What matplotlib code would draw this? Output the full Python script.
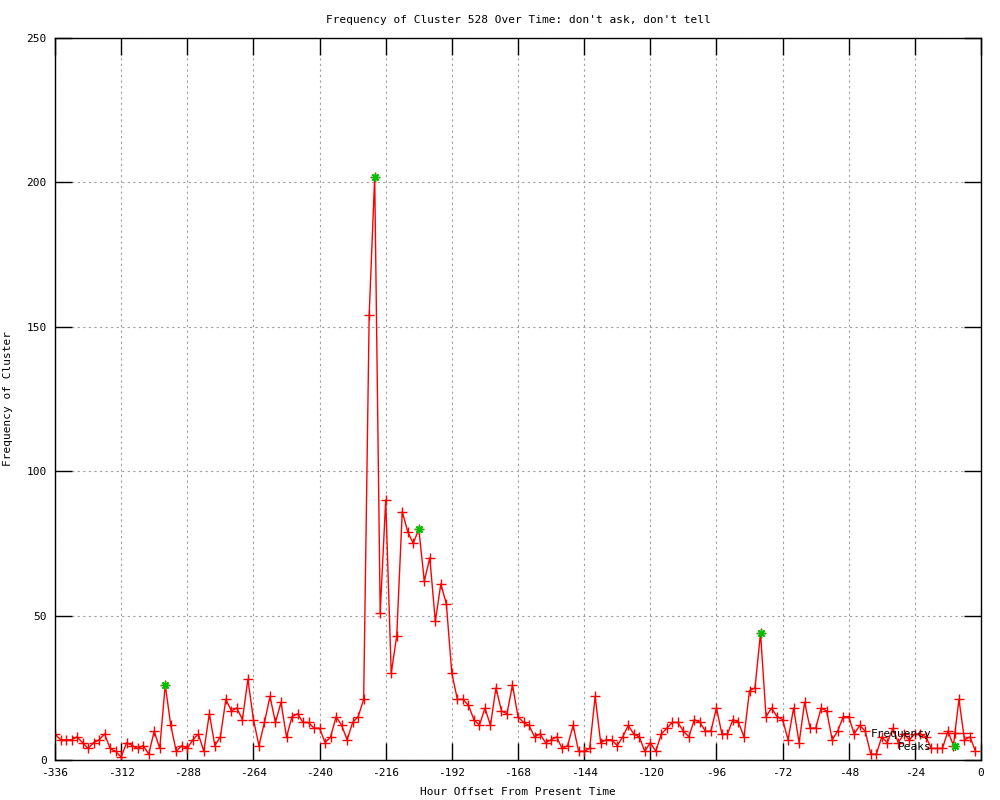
import matplotlib
matplotlib.use("Agg")
import matplotlib.pyplot as plt

# hourly bins (every 2 hours) and counts
hours = [
    -336, -334, -332, -330, -328, -326, -324, -322, -320, -318, -316, -314,
    -312, -310, -308, -306, -304, -302, -300, -298, -296, -294, -292, -290,
    -288, -286, -284, -282, -280, -278, -276, -274, -272, -270, -268, -266,
    -264, -262, -260, -258, -256, -254, -252, -250, -248, -246, -244, -242,
    -240, -238, -236, -234, -232, -230, -228, -226, -224, -222, -220, -218,
    -216, -214, -212, -210, -208, -206, -204, -202, -200, -198, -196, -194,
    -192, -190, -188, -186, -184, -182, -180, -178, -176, -174, -172, -170,
    -168, -166, -164, -162, -160, -158, -156, -154, -152, -150, -148, -146,
    -144, -142, -140, -138, -136, -134, -132, -130, -128, -126, -124, -122,
    -120, -118, -116, -114, -112, -110, -108, -106, -104, -102, -100, -98,
    -96, -94, -92, -90, -88, -86, -84, -82, -80, -78, -76, -74,
    -72, -70, -68, -66, -64, -62, -60, -58, -56, -54, -52, -50,
    -48, -46, -44, -42, -40, -38, -36, -34, -32, -30, -28, -26,
    -24, -22, -20, -18, -16, -14, -12, -10, -8, -6, -4, -2,
]
freq = [
    9, 7, 7, 7, 8, 6, 4, 6, 7, 9, 4, 3,
    1, 6, 5, 4, 5, 2, 10, 4, 26, 12, 3, 5,
    4, 7, 9, 3, 16, 5, 8, 21, 17, 18, 14, 28,
    14, 5, 13, 22, 13, 20, 8, 15, 16, 13, 13, 11,
    11, 6, 8, 15, 12, 7, 13, 15, 21, 154, 202, 51,
    90, 30, 43, 86, 79, 75, 80, 62, 70, 48, 61, 54,
    30, 21, 21, 19, 14, 12, 18, 12, 25, 17, 16, 26,
    15, 13, 12, 8, 9, 6, 7, 8, 4, 5, 12, 3,
    3, 4, 22, 6, 7, 7, 5, 8, 12, 9, 8, 3,
    6, 3, 9, 11, 13, 13, 10, 8, 14, 13, 10, 10,
    18, 9, 9, 14, 13, 8, 24, 25, 44, 15, 18, 15,
    14, 7, 18, 6, 20, 11, 11, 18, 17, 7, 10, 15,
    15, 9, 12, 10, 2, 2, 8, 6, 11, 6, 9, 7,
    9, 9, 8, 4, 4, 4, 10, 5, 21, 7, 8, 3,
]
peak_hours = [-296, -220, -204, -80]
peak_freq = [26, 202, 80, 44]

xticks = list(range(-336, 1, 24))
yticks = [0, 50, 100, 150, 200, 250]

plt.rcParams['font.family'] = ['DejaVu Sans Mono']
plt.rcParams['font.size'] = 8
plt.rcParams['axes.unicode_minus'] = False

fig = plt.figure(figsize=(10, 8), dpi=100)
ax = fig.add_axes([0.055, 0.05, 0.926, 0.9025])

line, = ax.plot(hours, freq, color='#ff0000', linewidth=1.0, marker='+',
                markersize=7, markeredgewidth=1.0, label='Frequency')
pk, = ax.plot(peak_hours, peak_freq, linestyle='none', color='#00c000',
              marker=(8, 2, 0), markersize=6, markeredgewidth=1.0, label='Peaks')

ax.set_xlim(-336, 0)
ax.set_ylim(0, 250)
ax.set_xticks(xticks)
ax.set_yticks(yticks)
ax.grid(True, color='#a0a0a0', linestyle=(0, (2, 3)), linewidth=0.8)
ax.tick_params(direction='in', length=12, width=1, top=True, right=True,
               labelsize=8, pad=6, colors='black')
for s in ax.spines.values():
    s.set_linewidth(1)

ax.set_title("Frequency of Cluster 528 Over Time: don't ask, don't tell",
             fontsize=8, pad=11)
ax.set_xlabel('Hour Offset From Present Time', fontsize=8, labelpad=6)
ax.set_ylabel('Frequency of Cluster', fontsize=8, labelpad=10)

ax.legend(handles=[line, pk], loc='upper right',
          bbox_to_anchor=(0.990, 0.043), frameon=False, markerfirst=False,
          fontsize=8, handlelength=3.0, handletextpad=0.6, labelspacing=0.3,
          borderpad=0, borderaxespad=0)

fig.savefig('out.png', dpi=100)
